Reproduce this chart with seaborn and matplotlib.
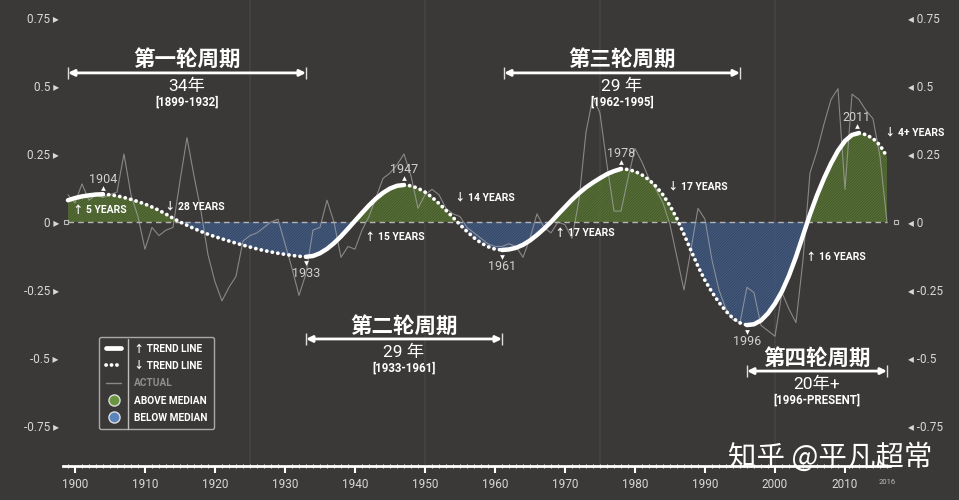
import matplotlib
matplotlib.use('Agg')
import matplotlib.pyplot as plt
import seaborn as sns
import pandas as pd
from matplotlib.lines import Line2D

# 数据: 年份, 实际值, 趋势线
years = list(range(1899, 2017))
actual = [0.10,
          0.07, 0.14, 0.08, 0.10, 0.09, 0.10, 0.11, 0.25, 0.10, 0.02,      # 1900-1909
          -0.10, -0.02, -0.05, -0.03, -0.02, 0.15, 0.31, 0.17, 0.04, -0.12,  # 1910-1919
          -0.22, -0.29, -0.24, -0.20, -0.07, -0.05, -0.04, -0.02, 0.00, 0.01,  # 1920-1929
          -0.08, -0.17, -0.27, -0.19, -0.03, -0.02, 0.08, 0.00, -0.13, -0.09,  # 1930-1939
          -0.10, -0.03, 0.02, 0.09, 0.16, 0.18, 0.21, 0.25, 0.17, 0.05,      # 1940-1949
          0.10, 0.12, 0.10, 0.05, 0.03, 0.02, -0.02, -0.04, -0.06, -0.08,    # 1950-1959
          -0.09, -0.09, -0.08, -0.09, -0.13, -0.06, 0.03, -0.02, -0.04, 0.00,  # 1960-1969
          -0.01, -0.06, 0.08, 0.33, 0.46, 0.40, 0.21, 0.04, 0.04, 0.16,      # 1970-1979
          0.27, 0.22, 0.16, 0.12, 0.07, -0.01, -0.13, -0.25, -0.10, 0.05,    # 1980-1989
          0.01, -0.14, -0.25, -0.32, -0.36, -0.37, -0.24, -0.26, -0.38, -0.40,  # 1990-1999
          -0.42, -0.26, -0.32, -0.37, -0.14, 0.18, 0.26, 0.36, 0.45, 0.49,   # 2000-2009
          0.12, 0.47, 0.45, 0.41, 0.38, 0.24, 0.00]                        # 2010-2016
trend = [0.080,
         0.088, 0.094, 0.098, 0.101, 0.102, 0.100, 0.096, 0.090, 0.083, 0.075,
         0.066, 0.055, 0.043, 0.029, 0.014, 0.000, -0.012, -0.024, -0.035, -0.045,
         -0.054, -0.062, -0.070, -0.078, -0.085, -0.092, -0.099, -0.105, -0.110, -0.115,
         -0.119, -0.123, -0.126, -0.128, -0.125, -0.115, -0.099, -0.078, -0.053, -0.025,
         0.004, 0.033, 0.061, 0.086, 0.107, 0.123, 0.133, 0.136, 0.133, 0.124,
         0.110, 0.091, 0.068, 0.043, 0.017, -0.010, -0.035, -0.058, -0.077, -0.091,
         -0.100, -0.103, -0.101, -0.095, -0.084, -0.068, -0.048, -0.025, 0.000, 0.028,
         0.055, 0.082, 0.106, 0.127, 0.145, 0.161, 0.176, 0.187, 0.195, 0.193,
         0.186, 0.173, 0.155, 0.131, 0.100, 0.060, 0.012, -0.045, -0.105, -0.163,
         -0.215, -0.258, -0.296, -0.328, -0.354, -0.371, -0.379, -0.376, -0.362, -0.336,
         -0.300, -0.255, -0.197, -0.128, -0.050, 0.028, 0.098, 0.160, 0.215, 0.262,
         0.298, 0.320, 0.327, 0.321, 0.307, 0.282, 0.240]

# 转折点 (上升段实线, 下降段虚线)
turns = [1899, 1904, 1933, 1947, 1961, 1978, 1996, 2012, 2016]
peak_labels = ['1904', '1933', '1947', '1961', '1978', '1996', '2011']
trend_notes = ['↑ 5 YEARS', '↓ 28 YEARS', '↑ 15 YEARS', '↓ 14 YEARS',
               '↑ 17 YEARS', '↓ 17 YEARS', '↑ 16 YEARS', '↓ 4+ YEARS']
cycles = ['第一轮周期', '第二轮周期', '第三轮周期', '第四轮周期']
cycle_len = ['34年', '29 年', '29 年', '20年+']
cycle_span = ['[1899-1932]', '[1933-1961]', '[1962-1995]', '[1996-PRESENT]']
cycle_edges = [(1899, 1933), (1933, 1961), (1961.3, 1995), (1996, 2016)]
yticks = [-0.75, -0.5, -0.25, 0, 0.25, 0.5, 0.75]

df = pd.DataFrame({'year': years, 'actual': actual, 'trend': trend})

bg = '#3b3937'
sns.set_theme(style='dark', rc={'axes.facecolor': bg, 'figure.facecolor': bg})
plt.rcParams['font.family'] = ['Roboto', 'Noto Sans CJK SC', 'DejaVu Sans']
plt.rcParams['hatch.linewidth'] = 0.6

fig = plt.figure(figsize=(9.59, 5.0), dpi=100)
ax = fig.add_axes([63 / 959, 34 / 500, 827 / 959, 466 / 500])
ax.set_xlim(1898.29, 2016.43)
ax.set_ylim(-0.897, 0.816)

for yr in [1925, 1950, 1975, 2000]:
    ax.axvline(yr, color='#474542', lw=1.2, zorder=0)

# 填充: 高于/低于中位数
yv = df['year'].values
tv = df['trend'].values
ax.fill_between(yv, tv, 0, where=tv >= 0, interpolate=True, color='#5f7f35', alpha=0.8, lw=0, zorder=1)
ax.fill_between(yv, tv, 0, where=tv <= 0, interpolate=True, color='#48699c', alpha=0.7, lw=0, zorder=1)
ax.fill_between(yv, tv, 0, where=tv >= 0, interpolate=True, facecolor='none',
                edgecolor=(0.2, 0.25, 0.15, 0.5), hatch='/' * 12, lw=0, zorder=1)
ax.fill_between(yv, tv, 0, where=tv <= 0, interpolate=True, facecolor='none',
                edgecolor=(0.15, 0.2, 0.3, 0.5), hatch='/' * 12, lw=0, zorder=1)

ax.plot([1899, 2016], [0, 0], color='#b5b5b5', lw=1, ls=(0, (4, 3)), zorder=2)
ax.plot([1898.75, 2017.3], [0, 0], ls='none', marker='s', ms=3.5, mfc='none',
        mec='#bbbbbb', mew=0.8, clip_on=False, zorder=2)

# 实际值
sns.lineplot(data=df, x='year', y='actual', ax=ax, color='#a9a9a9', lw=0.8, alpha=0.7, zorder=3)

# 趋势线
for i in range(len(turns) - 1):
    seg = df[(df['year'] >= turns[i]) & (df['year'] <= turns[i + 1])]
    if i % 2 == 0:
        sns.lineplot(data=seg, x='year', y='trend', ax=ax, color='white', lw=3.2,
                     solid_capstyle='round', zorder=5)
    else:
        sns.lineplot(data=seg, x='year', y='trend', ax=ax, color='white', lw=2.7,
                     linestyle=(0, (0.05, 1.45)), dash_capstyle='round', zorder=5)

# 转折点年份
for t, lab in zip(turns[1:-1], peak_labels):
    v = df.loc[df['year'] == t, 'trend'].values[0]
    up = v > 0
    xx = t - 0.3 if lab == '2011' else t
    ax.plot(xx, v + (0.024 if up else -0.024), marker='^' if up else 'v', ms=3.4,
            color='white', mew=0, zorder=6)
    ax.text(xx, v + (0.056 if up else -0.06), lab, color='#d0d0d0', fontsize=9,
            ha='center', va='center', zorder=6)

# 每段持续时间
note_pos = [(1899.7, 0.044), (1912.9, 0.059), (1941.4, -0.055), (1954.3, 0.092),
            (1968.6, -0.042), (1984.7, 0.132), (2004.4, -0.129), (2015.7, 0.331)]
for (nx, ny), txt in zip(note_pos, trend_notes):
    ax.text(nx, ny, txt, color='white', fontsize=7.5, fontweight='bold',
            ha='left', va='center', zorder=6)

# 周期标注
cyc_y = [0.548, -0.43, 0.548, -0.548]
for (x0, x1), name, ln, sp, cy in zip(cycle_edges, cycles, cycle_len, cycle_span, cyc_y):
    cx = (x0 + x1) / 2
    ax.annotate('', xy=(x0, cy), xytext=(x1, cy),
                arrowprops=dict(arrowstyle='<|-|>', color='white', lw=2,
                                mutation_scale=9, shrinkA=0, shrinkB=0), zorder=6)
    ax.plot([x0, x1], [cy, cy], ls='none', marker='|', ms=9, mew=1, color='#dddddd', zorder=6)
    ax.text(cx, cy + 0.048, name, color='white', fontsize=15.5, fontweight='bold',
            family=['Noto Sans CJK SC'], ha='center', va='center', zorder=6)
    ax.text(cx, cy - 0.05, ln, color='white', fontsize=12.5,
            family=['Roboto', 'Noto Sans CJK SC'], ha='center', va='center', zorder=6)
    ax.text(cx, cy - 0.108, sp, color='white', fontsize=8.3, fontweight='bold',
            ha='center', va='center', zorder=6)

# 坐标轴
for s in ['top', 'left', 'right']:
    ax.spines[s].set_visible(False)
ax.spines['bottom'].set_color('white')
ax.spines['bottom'].set_linewidth(2)
ax.set_xticks(range(1900, 2011, 10))
ax.set_xticks(range(1899, 2017), minor=True)
ax.tick_params(axis='x', which='major', colors='white', length=5, width=1.5, direction='out',
               labelcolor='#d8d8d8', labelsize=8.5, pad=4, bottom=True)
ax.tick_params(axis='x', which='minor', colors='#dddddd', length=3, width=0.8,
               direction='inout', bottom=True)
ax.text(2016, -0.897 - 0.06, '2016', color='#bbbbbb', fontsize=5.5, ha='center', va='center')
ax.set_yticks(yticks)
ax.set_yticklabels([f'{v:g} ▸' for v in yticks])
ax.tick_params(axis='y', length=0, labelcolor='#d8d8d8', labelsize=8.5, pad=3)
ax.grid(False)
ax.set_xlabel('')
ax.set_ylabel('')

ax2 = ax.twinx()
ax2.set_ylim(ax.get_ylim())
ax2.set_yticks(yticks)
ax2.set_yticklabels([f'◂ {v:g}' for v in yticks])
ax2.tick_params(axis='y', length=0, labelcolor='#d8d8d8', labelsize=8.5, pad=13)
for s in ax2.spines.values():
    s.set_visible(False)
ax2.grid(False)

# 图例
handles = [Line2D([], [], color='white', lw=3.4, solid_capstyle='round'),
           Line2D([], [], color='white', lw=2.7, linestyle=(0, (0.05, 1.4)), dash_capstyle='round'),
           Line2D([], [], color='#8a8a8a', lw=1),
           Line2D([], [], ls='none', marker='o', ms=8, mfc='#6a9440', mec='#dddddd', mew=1),
           Line2D([], [], ls='none', marker='o', ms=8, mfc='#5b84bd', mec='#dddddd', mew=1)]
labels = ['↑ TREND LINE', '↓ TREND LINE', 'ACTUAL', 'ABOVE MEDIAN', 'BELOW MEDIAN']
leg = ax2.legend(handles, labels, loc='upper left', bbox_to_anchor=(0.044, 0.276),
                 frameon=True, fancybox=True, facecolor=bg, edgecolor='#bdbdbd',
                 framealpha=0.85, handlelength=1.55, handletextpad=1.25, labelspacing=0.72,
                 borderpad=0.62, borderaxespad=0, prop={'weight': 'bold', 'size': 7.3})
for txt, c in zip(leg.get_texts(), ['white', 'white', '#8f8f8f', 'white', 'white']):
    txt.set_color(c)
leg.set_zorder(7)
fig.add_artist(Line2D([128 / 959, 128 / 959], [1 - 339 / 500, 1 - 429 / 500],
                      transform=fig.transFigure, color='#bdbdbd', lw=1, zorder=10))

# 水印
fig.text(830 / 959, 1 - 458 / 500, '知乎 @平凡超常', color='white', fontsize=20.5,
         family=['Noto Sans CJK SC'], ha='center', va='center', zorder=10)

fig.savefig('out.png', dpi=100, facecolor=bg)
